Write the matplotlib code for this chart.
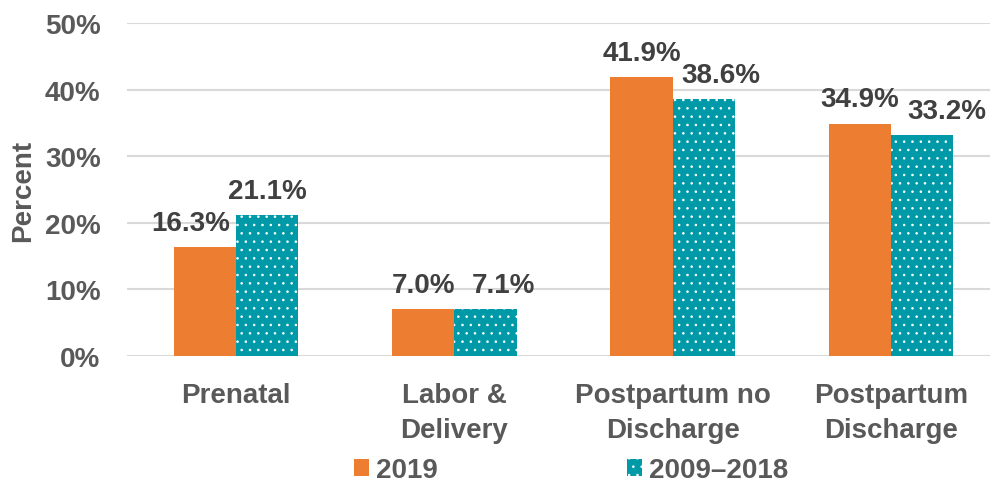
import matplotlib.pyplot as plt
import numpy as np

plt.rcParams['font.family'] = ['Liberation Sans', 'DejaVu Sans']
plt.rcParams['font.weight'] = 'bold'
plt.rcParams['hatch.color'] = 'white'
plt.rcParams['hatch.linewidth'] = 0.6

categorias = ['Prenatal', 'Labor &\nDelivery', 'Postpartum no\nDischarge', 'Postpartum\nDischarge']
valores_2019 = [16.3, 7.0, 41.9, 34.9]
valores_2009_2018 = [21.1, 7.1, 38.6, 33.2]
yticks = [0, 10, 20, 30, 40, 50]

# deslocamento horizontal dos rótulos (pontos), como o Excel fez para não sobrepor
desloc_2019 = [-10, 0, 0, 0]
desloc_2009_2018 = [0, 13, 12, 18]

laranja = '#ED7D31'
azul = '#0099A8'
cinza_texto = '#595959'
cinza_valor = '#404040'
tam = 20

fig = plt.figure(figsize=(9.9, 4.85), dpi=100)
# eixo passa um pouco da borda direita, como na imagem original
ax = fig.add_axes([127 / 990, 1 - 357 / 485, 873 / 990, 333 / 485])

x = np.arange(len(categorias))
largura = 0.285

b1 = ax.bar(x - largura / 2, valores_2019, largura, color=laranja, linewidth=0, label='2019', zorder=2)
b2 = ax.bar(x + largura / 2, valores_2009_2018, largura, color=azul, linewidth=0,
            hatch='..', label='2009\u20132018', zorder=2)

for barras, desloc in ((b1, desloc_2019), (b2, desloc_2009_2018)):
    for barra, dx in zip(barras, desloc):
        h = barra.get_height()
        ax.annotate(f'{h:.1f}%', (barra.get_x() + barra.get_width() / 2, h),
                    xytext=(dx, 8), textcoords='offset points', ha='center', va='bottom',
                    fontsize=tam, fontweight='bold', color=cinza_valor)

ax.set_xlim(-0.5, len(categorias) - 0.5)
ax.set_ylim(0, 50)
ax.set_yticks(yticks)
ax.set_yticklabels([f'{v}%' for v in yticks], fontsize=tam, color=cinza_texto)
ax.set_xticks(x)
ax.set_xticklabels(categorias, fontsize=tam, color=cinza_texto, linespacing=1.45)
ax.tick_params(length=0)
ax.tick_params(axis='y', pad=19)
ax.tick_params(axis='x', pad=19)
ax.set_ylabel('Percent', fontsize=tam, fontweight='bold', color=cinza_texto, labelpad=6)

ax.grid(axis='y', color='#D9D9D9', linewidth=1.5, zorder=0)
for lado in ['top', 'right', 'left', 'bottom']:
    ax.spines[lado].set_visible(False)

fig.legend(handles=[b1, b2], loc='center', bbox_to_anchor=(0.577, 1 - 471 / 485), ncol=2,
           frameon=False, fontsize=tam, labelcolor=cinza_texto, handlelength=0.55,
           handleheight=0.55, handletextpad=0.25, columnspacing=6.8)

fig.savefig('out.png', dpi=100)
